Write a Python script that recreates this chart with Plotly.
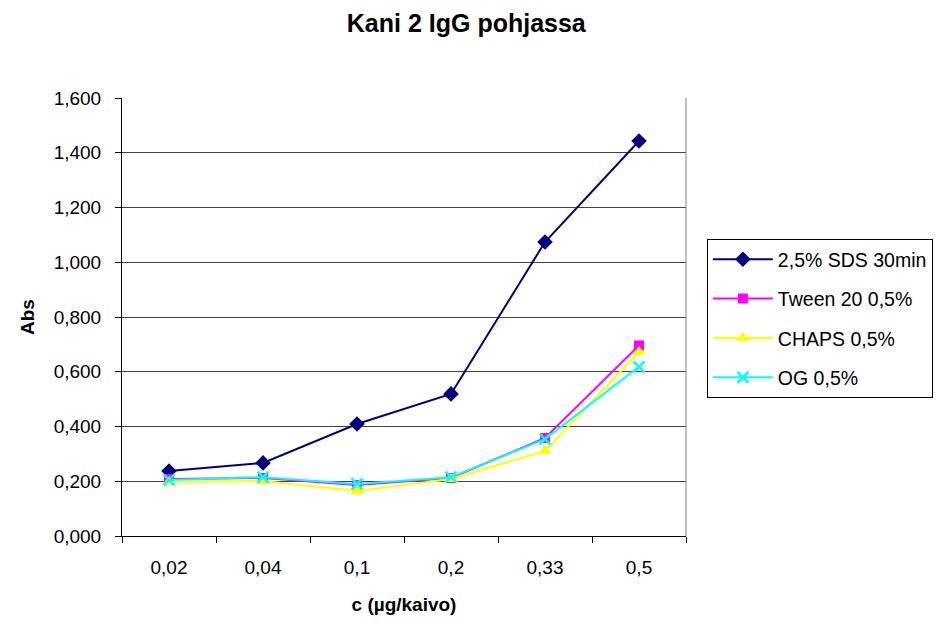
import plotly.graph_objects as go

# Concentration categories (µg per well)
categories = ["0,02", "0,04", "0,1", "0,2", "0,33", "0,5"]

# Absorbance readings per treatment
sds_30min = [0.237, 0.267, 0.409, 0.519, 1.074, 1.443]
tween20 = [0.208, 0.212, 0.186, 0.212, 0.358, 0.696]
chaps = [0.197, 0.201, 0.164, 0.208, 0.311, 0.672]
og = [0.205, 0.215, 0.190, 0.215, 0.354, 0.618]

y_ticks = [0.0, 0.2, 0.4, 0.6, 0.8, 1.0, 1.2, 1.4, 1.6]

series = [
    ("2,5% SDS 30min", sds_30min, "#000080", dict(symbol="diamond", size=12)),
    ("Tween 20 0,5%", tween20, "#FF00FF", dict(symbol="square", size=10)),
    ("CHAPS 0,5%", chaps, "#FFFF00", dict(symbol="triangle-up", size=12)),
    ("OG 0,5%", og, "#00FFFF", dict(symbol="x-thin-open", size=11, line=dict(width=2.5, color="#00FFFF"))),
]

fig = go.Figure()
for i, (name, vals, color, marker) in enumerate(series):
    fig.add_trace(go.Scatter(
        x=categories, y=vals, name=name, mode="lines+markers",
        line=dict(color=color, width=2),
        marker=dict(color=color, **marker),
        legendgroup=f"g{i}",
    ))

font_family = "Arial, Liberation Sans, sans-serif"

fig.update_layout(
    width=942, height=624,
    margin=dict(l=122, r=256, t=98, b=88, autoexpand=False),
    paper_bgcolor="white", plot_bgcolor="white",
    separators=", ",
    font=dict(family=font_family, size=19, color="black"),
    title=dict(text="<b>Kani 2 IgG pohjassa</b>", x=0.495, xanchor="center",
               y=0.963, yanchor="middle", font=dict(size=25)),
    showlegend=True,
    legend=dict(
        x=1.037, xanchor="left", y=0.678, yanchor="top",
        bordercolor="black", borderwidth=1, bgcolor="white",
        font=dict(size=19.5), tracegroupgap=11, traceorder="grouped",
        itemwidth=60,
    ),
    xaxis=dict(
        type="category", range=[-0.5, 5.5], tickson="boundaries",
        ticks="outside", ticklen=6,
        tickcolor="black", showline=True, linecolor="black", linewidth=1,
        mirror=False, showgrid=False, ticklabelstandoff=14,
        title=dict(text="<b>c (µg/kaivo)</b>", font=dict(size=19), standoff=20),
        tickfont=dict(size=19),
    ),
    yaxis=dict(
        range=[0, 1.6], tickvals=y_ticks, tickformat=".3f",
        ticks="outside", ticklen=6, tickcolor="black",
        showline=True, linecolor="black", linewidth=1,
        showgrid=True, gridcolor="#444444", gridwidth=1,
        zeroline=False, ticklabelstandoff=10,
        title=dict(text="<b>Abs</b>", font=dict(size=19), standoff=14),
        tickfont=dict(size=19),
    ),
)

# Right-hand frame of the plot area
fig.add_shape(type="line", xref="paper", yref="paper", x0=1, x1=1, y0=0, y1=1,
              line=dict(color="#808080", width=1))

fig.write_html("out.html")
